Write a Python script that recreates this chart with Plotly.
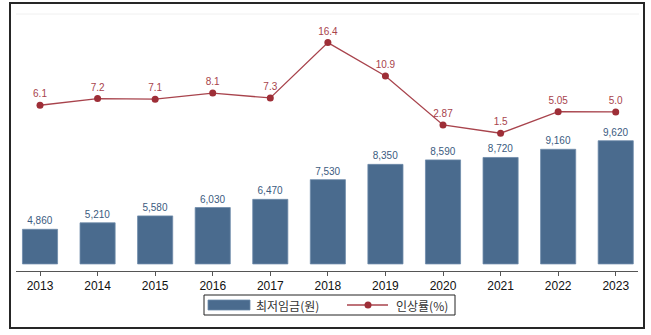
import plotly.graph_objects as go

years = [2013, 2014, 2015, 2016, 2017, 2018, 2019, 2020, 2021, 2022, 2023]
wages = [4860, 5210, 5580, 6030, 6470, 7530, 8350, 8590, 8720, 9160, 9620]
rates = [6.1, 7.2, 7.1, 8.1, 7.3, 16.4, 10.9, 2.87, 1.5, 5.05, 5.0]
rate_labels = ["6.1", "7.2", "7.1", "8.1", "7.3", "16.4", "10.9", "2.87", "1.5", "5.05", "5.0"]
series_names = ["최저임금(원)", "인상률(%)"]

BAR_BASE = 3000
BAR_COLOR = "#4a6b8e"
LINE_COLOR = "#9e2e37"
W, H = 651, 335

def px(x):
    return x / W

def py(y):
    return 1 - y / H

fig = go.Figure()

fig.add_trace(go.Bar(
    x=years,
    y=[w - BAR_BASE for w in wages],
    base=BAR_BASE,
    width=0.61,
    marker=dict(color=BAR_COLOR, line=dict(color="#6d8aa9", width=0.8)),
    text=[f"{w:,}" for w in wages],
    textposition="outside",
    textfont=dict(family="Liberation Sans, Arial", size=10, color="#3b5b80"),
    cliponaxis=False,
    name=series_names[0],
    showlegend=False,
))

fig.add_trace(go.Scatter(
    x=years,
    y=rates,
    yaxis="y2",
    mode="lines+markers+text",
    line=dict(color="#a8434c", width=1.3),
    marker=dict(color=LINE_COLOR, size=7),
    text=rate_labels,
    textposition="top center",
    textfont=dict(family="Liberation Sans, Arial", size=10, color="#a8434c"),
    cliponaxis=False,
    name=series_names[1],
    showlegend=False,
))

shapes = [
    # outer frame
    dict(type="rect", xref="paper", yref="paper", x0=px(10), x1=px(644), y0=py(328), y1=py(3),
         line=dict(color="#262626", width=2), fillcolor="rgba(0,0,0,0)", layer="above"),
    # faint top line of the plot area
    dict(type="line", xref="paper", yref="paper", x0=px(16), x1=px(639), y0=py(14), y1=py(14),
         line=dict(color="#f0f0f0", width=1)),
    # legend box
    dict(type="rect", xref="paper", yref="paper", x0=px(204), x1=px(455), y0=py(315), y1=py(295),
         line=dict(color="#222222", width=1), fillcolor="white"),
    # bar swatch
    dict(type="rect", xref="paper", yref="paper", x0=px(208), x1=px(250), y0=py(310), y1=py(300),
         line=dict(color="#6d8aa9", width=0.8), fillcolor=BAR_COLOR),
    # line swatch
    dict(type="line", xref="paper", yref="paper", x0=px(347), x1=px(388), y0=py(305), y1=py(305),
         line=dict(color="#a8434c", width=1.3)),
    dict(type="circle", xref="paper", yref="paper", x0=px(364.5), x1=px(371.5), y0=py(308.5), y1=py(301.5),
         line=dict(color=LINE_COLOR, width=0), fillcolor=LINE_COLOR),
]

annotations = [
    dict(xref="paper", yref="paper", x=px(254), y=py(305), xanchor="left", yanchor="middle",
         text=series_names[0], showarrow=False,
         font=dict(family="Noto Sans CJK KR", size=12, color="#333333")),
    dict(xref="paper", yref="paper", x=px(394), y=py(305), xanchor="left", yanchor="middle",
         text=series_names[1], showarrow=False,
         font=dict(family="Noto Sans CJK KR", size=12, color="#333333")),
]

fig.update_layout(
    width=W, height=H,
    margin=dict(l=0, r=0, t=0, b=0),
    paper_bgcolor="white",
    plot_bgcolor="white",
    showlegend=False,
    bargap=0.39,
    xaxis=dict(
        domain=[px(16), px(638)],
        range=[2012.583, 2023.387],
        tickmode="array",
        tickvals=years,
        ticktext=[str(y) for y in years],
        showline=True, linecolor="#555555", linewidth=1,
        ticks="outside", ticklen=4, tickcolor="#555555",
        showgrid=False, zeroline=False,
        tickfont=dict(family="Liberation Sans, Arial", size=12, color="#111111"),
    ),
    yaxis=dict(
        domain=[py(271), py(14)],
        range=[2620, 16430],
        visible=False,
        showgrid=False, zeroline=False,
    ),
    yaxis2=dict(
        domain=[py(271), py(14)],
        range=[-21.15, 21.1],
        overlaying="y",
        visible=False,
        showgrid=False, zeroline=False,
    ),
    shapes=shapes,
    annotations=annotations,
)

fig.write_html("out.html")
